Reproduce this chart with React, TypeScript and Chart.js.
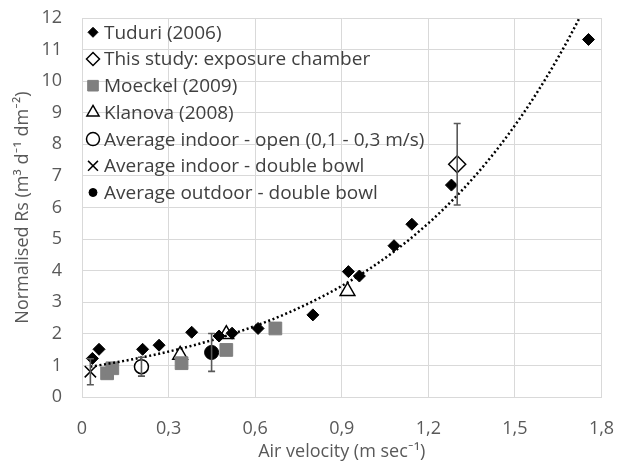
import React, { useEffect, useRef } from 'react';
import { Chart, registerables } from 'chart.js';
import { drawPoint } from 'chart.js/helpers';

Chart.register(...registerables);

const FONT = '"Open Sans", Lato, sans-serif';
const TEXT_COLOR = '#595959';
const GRID_COLOR = '#d9d9d9';

// ---- data ----
const seriesNames = [
  'Tuduri (2006)',
  'This study: exposure chamber',
  'Moeckel (2009)',
  'Klanova (2008)',
  'Average indoor - open (0,1 - 0,3 m/s)',
  'Average indoor - double bowl',
  'Average outdoor - double bowl',
];

const tuduriX = [0.036, 0.059, 0.21, 0.267, 0.38, 0.475, 0.52, 0.61, 0.8, 0.923, 0.961, 1.081, 1.143, 1.28, 1.755];
const tuduriY = [1.22, 1.51, 1.51, 1.64, 2.05, 1.93, 2.02, 2.17, 2.6, 3.97, 3.83, 4.79, 5.47, 6.71, 11.32];

const studyX = [1.3];
const studyY = [7.37];
const studyErr = [1.29];

const moeckelX = [0.087, 0.105, 0.345, 0.5, 0.67];
const moeckelY = [0.75, 0.91, 1.07, 1.49, 2.17];

const klanovaX = [0.34, 0.5, 0.92];
const klanovaY = [1.33, 1.99, 3.35];

const indoorOpenX = [0.206];
const indoorOpenY = [0.96];
const indoorOpenErr = [0.3];

const indoorBowlX = [0.029];
const indoorBowlY = [0.8];
const indoorBowlErr = [0.41];

const outdoorX = [0.449];
const outdoorY = [1.41];
const outdoorErr = [0.6];

// exponential trendline y = a * e^(b x), coefficients
const trendA = 0.92;
const trendB = 1.49;
const trendFrom = 0.029;
const trendTo = 1.755;
const trendSteps = 80;

const xTickLabels = ['0', '0,3', '0,6', '0,9', '1,2', '1,5', '1,8'];
const yTickLabels = ['0', '1', '2', '3', '4', '5', '6', '7', '8', '9', '10', '11', '12'];

const xTitle = 'Air velocity (m sec\u207B\u00B9)';
const yTitle = 'Normalised Rs (m\u00B3 d\u207B\u00B9 dm\u207B\u00B2)';

const pts = (xs: number[], ys: number[]) => xs.map((x, i) => ({ x, y: ys[i] }));

const trendPoints = Array.from({ length: trendSteps + 1 }, (_, i) => {
  const x = trendFrom + ((trendTo - trendFrom) * i) / trendSteps;
  return { x, y: trendA * Math.exp(trendB * x) };
});

type Marker = {
  pointStyle: string;
  radius: number;
  legendRadius: number;
  bg: string;
  border: string;
  borderWidth: number;
};

const markers: Marker[] = [
  { pointStyle: 'rectRot', radius: 6, legendRadius: 5, bg: '#000000', border: '#000000', borderWidth: 1 },
  { pointStyle: 'rectRot', radius: 8.5, legendRadius: 6.5, bg: '#ffffff', border: '#000000', borderWidth: 1.5 },
  { pointStyle: 'rect', radius: 9, legendRadius: 7.5, bg: '#7f7f7f', border: '#7f7f7f', borderWidth: 1 },
  { pointStyle: 'triangle', radius: 8.5, legendRadius: 7, bg: '#ffffff', border: '#000000', borderWidth: 1.5 },
  { pointStyle: 'circle', radius: 7, legendRadius: 6.5, bg: '#ffffff', border: '#000000', borderWidth: 1.5 },
  { pointStyle: 'crossRot', radius: 8, legendRadius: 7, bg: '#000000', border: '#000000', borderWidth: 1.5 },
  { pointStyle: 'circle', radius: 7, legendRadius: 4, bg: '#000000', border: '#000000', borderWidth: 1 },
];

const seriesData = [
  pts(tuduriX, tuduriY),
  pts(studyX, studyY),
  pts(moeckelX, moeckelY),
  pts(klanovaX, klanovaY),
  pts(indoorOpenX, indoorOpenY),
  pts(indoorBowlX, indoorBowlY),
  pts(outdoorX, outdoorY),
];

const errorBars = [
  { xs: studyX, ys: studyY, err: studyErr },
  { xs: indoorOpenX, ys: indoorOpenY, err: indoorOpenErr },
  { xs: indoorBowlX, ys: indoorBowlY, err: indoorBowlErr },
  { xs: outdoorX, ys: outdoorY, err: outdoorErr },
];

const errorBarPlugin = {
  id: 'errorBars',
  afterDatasetsDraw(chart: any) {
    const { ctx, scales } = chart;
    const xs = scales.x;
    const ys = scales.y;
    ctx.save();
    ctx.strokeStyle = '#595959';
    ctx.lineWidth = 1.6;
    errorBars.forEach((eb) => {
      eb.xs.forEach((xv, i) => {
        const px = xs.getPixelForValue(xv);
        const top = ys.getPixelForValue(eb.ys[i] + eb.err[i]);
        const bot = ys.getPixelForValue(eb.ys[i] - eb.err[i]);
        ctx.beginPath();
        ctx.moveTo(px, top);
        ctx.lineTo(px, bot);
        ctx.moveTo(px - 3.5, top);
        ctx.lineTo(px + 3.5, top);
        ctx.moveTo(px - 3.5, bot);
        ctx.lineTo(px + 3.5, bot);
        ctx.stroke();
      });
    });
    ctx.restore();
  },
};

const legendPlugin = {
  id: 'insideLegend',
  afterDraw(chart: any) {
    const { ctx } = chart;
    ctx.save();
    ctx.font = `19px ${FONT}`;
    ctx.textBaseline = 'middle';
    ctx.textAlign = 'left';
    const startY = 32.3;
    const step = 26.7;
    seriesNames.forEach((name, i) => {
      const m = markers[i];
      const y = startY + step * i;
      ctx.fillStyle = m.bg;
      ctx.strokeStyle = m.border;
      ctx.lineWidth = m.borderWidth;
      drawPoint(ctx, { pointStyle: m.pointStyle as any, radius: m.legendRadius, rotation: 0, borderWidth: m.borderWidth }, 93, y);
      ctx.fillStyle = '#404040';
      ctx.fillText(name, 104, y + 1);
    });
    ctx.restore();
  },
};

export default function App() {
  const canvasRef = useRef<HTMLCanvasElement | null>(null);

  useEffect(() => {
    if (!canvasRef.current) return;
    const datasets: any[] = seriesData.map((data, i) => ({
      type: 'scatter',
      label: seriesNames[i],
      data,
      pointStyle: markers[i].pointStyle,
      pointRadius: markers[i].radius,
      pointBackgroundColor: markers[i].bg,
      pointBorderColor: markers[i].border,
      pointBorderWidth: markers[i].borderWidth,
      showLine: false,
      order: 2,
    }));
    datasets.push({
      type: 'line',
      label: 'trend',
      data: trendPoints,
      borderColor: '#000000',
      borderWidth: 2.5,
      borderDash: [2, 2.6],
      pointRadius: 0,
      fill: false,
      tension: 0,
      order: 1,
    });

    const chart = new Chart(canvasRef.current, {
      type: 'scatter',
      data: { datasets },
      plugins: [errorBarPlugin, legendPlugin],
      options: {
        animation: false,
        responsive: false,
        events: [],
        layout: { padding: { top: 18, right: 15.5, left: 0, bottom: 0 } },
        plugins: {
          legend: { display: false },
          tooltip: { enabled: false },
        },
        scales: {
          x: {
            type: 'linear',
            min: 0,
            max: 1.8,
            afterFit: (s: any) => {
              s.height = 70;
              s.paddingLeft = 0;
              s.paddingRight = 0;
            },
            afterBuildTicks: (s: any) => {
              s.ticks = xTickLabels.map((_, i) => ({ value: i * 0.3 }));
            },
            ticks: {
              padding: 21,
              color: TEXT_COLOR,
              font: { family: FONT, size: 18 },
              callback: (_v: any, i: number) => xTickLabels[i],
              maxRotation: 0,
            },
            grid: { color: GRID_COLOR, lineWidth: 1, drawTicks: false },
            border: { color: GRID_COLOR },
            title: {
              display: true,
              text: xTitle,
              color: TEXT_COLOR,
              font: { family: FONT, size: 18 },
              padding: { top: 0, bottom: 4 },
            },
          },
          y: {
            type: 'linear',
            min: 0,
            max: 12,
            afterFit: (s: any) => {
              s.width = 82;
              s.paddingTop = 0;
              s.paddingBottom = 0;
            },
            afterBuildTicks: (s: any) => {
              s.ticks = yTickLabels.map((_, i) => ({ value: i }));
            },
            ticks: {
              padding: 20,
              color: TEXT_COLOR,
              font: { family: FONT, size: 18 },
              callback: (_v: any, i: number) => yTickLabels[i],
            },
            grid: { color: GRID_COLOR, lineWidth: 1, drawTicks: false },
            border: { color: GRID_COLOR },
            title: {
              display: true,
              text: yTitle,
              color: TEXT_COLOR,
              font: { family: FONT, size: 18 },
              padding: { top: 12, bottom: 0 },
            },
          },
        },
      } as any,
    });
    return () => chart.destroy();
  }, []);

  return (
    <div style={{ position: 'fixed', left: 0, top: 0, width: 617, height: 467, background: '#ffffff' }}>
      <canvas ref={canvasRef} width={617} height={467} style={{ display: 'block', width: 617, height: 467 }} />
    </div>
  );
}
